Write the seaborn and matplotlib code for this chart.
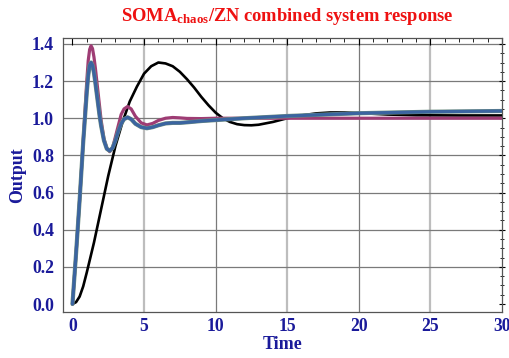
import numpy as np
import pandas as pd
import matplotlib
matplotlib.use("Agg")
import matplotlib.pyplot as plt
import matplotlib.patheffects as pe
from matplotlib.ticker import MultipleLocator
import seaborn as sns

# ---- data ----
t_fast = [0, 0.25, 0.5, 0.75, 1.0, 1.1, 1.2, 1.3, 1.4, 1.5, 1.6, 1.7, 1.8, 1.9, 2.0,
          2.2, 2.4, 2.6, 2.8, 3.0, 3.2, 3.4, 3.6, 3.85, 4.1, 4.4, 4.8, 5.2, 5.6, 6.0,
          6.5, 7.0, 7.5, 8.0, 9.0, 10.0, 12.0, 15.0, 20.0, 25.0, 30.0]
magenta_vals = [0.0, 0.27, 0.56, 0.88, 1.20, 1.31, 1.37, 1.39, 1.375, 1.33, 1.27, 1.20,
                1.13, 1.06, 0.99, 0.89, 0.84, 0.82, 0.84, 0.90, 0.96, 1.02, 1.05, 1.063,
                1.05, 1.01, 0.975, 0.964, 0.972, 0.988, 1.0, 1.004, 1.002, 0.999, 0.998,
                1.0, 1.0, 1.0, 1.0, 1.0, 1.0]
blue_vals = [0.0, 0.27, 0.56, 0.87, 1.14, 1.23, 1.285, 1.30, 1.285, 1.245, 1.19, 1.13,
             1.07, 1.01, 0.96, 0.88, 0.835, 0.825, 0.84, 0.88, 0.93, 0.97, 0.995, 1.005,
             0.995, 0.97, 0.952, 0.946, 0.952, 0.962, 0.972, 0.975, 0.975, 0.978, 0.985,
             0.99, 1.0, 1.012, 1.027, 1.035, 1.039]

t_slow = [0, 0.25, 0.5, 0.75, 1.0, 1.5, 2.0, 2.5, 3.0, 3.5, 4.0, 4.5, 5.0, 5.5, 6.0,
          6.5, 7.0, 7.5, 8.0, 8.5, 9.0, 9.5, 10.0, 10.5, 11.0, 11.5, 12.0, 12.5, 13.0,
          14.0, 15.0, 16.0, 17.0, 18.0, 19.0, 20.0, 21.0, 22.0, 24.0, 27.0, 30.0]
black_vals = [0.0, 0.01, 0.04, 0.095, 0.17, 0.33, 0.51, 0.69, 0.85, 0.98, 1.09, 1.17,
              1.24, 1.28, 1.30, 1.295, 1.28, 1.25, 1.21, 1.165, 1.115, 1.07, 1.03,
              1.0, 0.98, 0.968, 0.963, 0.962, 0.965, 0.98, 1.0, 1.015, 1.026, 1.031,
              1.031, 1.028, 1.024, 1.02, 1.016, 1.015, 1.015]

x_ticks = [0, 5, 10, 15, 20, 25, 30]
y_ticks = [0.0, 0.2, 0.4, 0.6, 0.8, 1.0, 1.2, 1.4]

title_text = "SOMA$_{\\mathbf{chaos}}$/ZN combined system response"
x_label = "Time"
y_label = "Output"

# ---- style ----
sns.set_style("white")
plt.rcParams["font.family"] = ["Liberation Serif", "DejaVu Serif"]
plt.rcParams["font.weight"] = "bold"
plt.rcParams["mathtext.fontset"] = "custom"
plt.rcParams["mathtext.rm"] = "Liberation Serif:bold"
plt.rcParams["mathtext.bf"] = "Liberation Serif:bold"
plt.rcParams["mathtext.it"] = "Liberation Serif:bold"

navy = "#1a1a9a"
fig = plt.figure(figsize=(5.09, 3.58), dpi=100)
ax = fig.add_axes([0.1238, 0.1285, 0.8624, 0.7654])

df_fast = pd.DataFrame({"t": t_fast, "magenta": magenta_vals, "blue": blue_vals})
df_slow = pd.DataFrame({"t": t_slow, "black": black_vals})

# grid lines (Mathematica-like)
for xv in [5, 15, 25]:
    ax.axvline(xv, color="#bdbdbd", lw=1.6, zorder=0)
for xv in [10, 20]:
    ax.axvline(xv, color="#7a7a7a", lw=0.9, zorder=0)
for yv in y_ticks[1:]:
    ax.axhline(yv, color="#7a7a7a", lw=0.9, zorder=0)

sns.lineplot(data=df_slow, x="t", y="black", ax=ax, color="black", lw=1.9,
             zorder=3, estimator=None, sort=False)
sns.lineplot(data=df_fast, x="t", y="magenta", ax=ax, color="#9e3c74", lw=2.3,
             zorder=4, estimator=None, sort=False)
l = sns.lineplot(data=df_fast, x="t", y="blue", ax=ax, color="#3b64a0", lw=2.3,
                 zorder=5, estimator=None, sort=False)
l.lines[-1].set_path_effects([pe.Stroke(linewidth=3.0, foreground="#6f8f82"), pe.Normal()])

ax.set_xlim(-0.66, 30)
ax.set_ylim(-0.043, 1.432)
ax.set_xticks(x_ticks)
ax.set_yticks(y_ticks)
ax.set_xticklabels([str(v) for v in x_ticks])
ax.set_yticklabels([f"{v:.1f}" for v in y_ticks])
ax.xaxis.set_minor_locator(MultipleLocator(1))
ax.yaxis.set_minor_locator(MultipleLocator(0.05))

ax.tick_params(axis="both", which="both", direction="in", colors="black",
               labelcolor=navy, labelsize=12.7, top=True, right=True)
ax.tick_params(axis="both", which="major", length=5, width=0.8, pad=4)
ax.tick_params(axis="both", which="minor", length=3, width=0.6)
ax.tick_params(axis="y", which="both", right=True, direction="inout")
for lab in ax.get_xticklabels() + ax.get_yticklabels():
    lab.set_fontweight("bold")
for s in ax.spines.values():
    s.set_color("#555555")
    s.set_linewidth(0.9)

ax.set_xlabel(x_label, color=navy, fontsize=13, fontweight="bold", labelpad=1)
ax.set_ylabel(y_label, color=navy, fontsize=12.8, fontweight="bold", labelpad=4)
fig.text(0.564, 0.953, title_text, color="#ee1111", fontsize=13.3, fontweight="bold",
         ha="center", va="center")

fig.savefig("out.png", dpi=100)
